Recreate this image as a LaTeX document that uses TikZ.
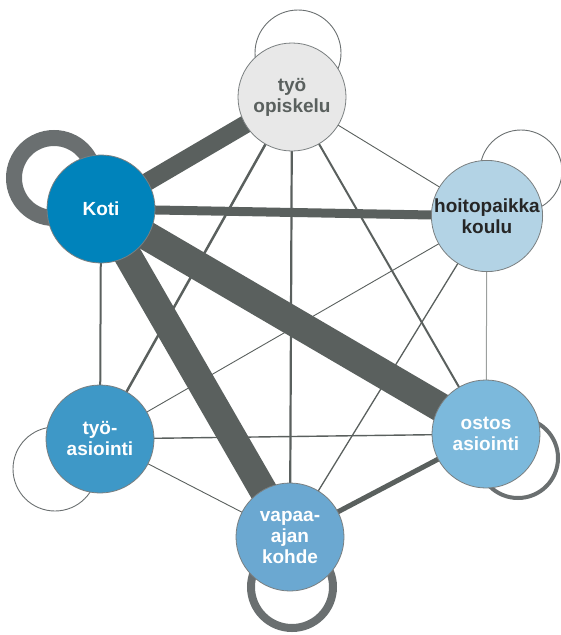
\documentclass[tikz,border=0pt]{standalone}
\usepackage{fontspec}
\setmainfont{Liberation Sans}
\usetikzlibrary{backgrounds}

\definecolor{edgegray}{HTML}{5A605E}
\definecolor{ringgray}{HTML}{6A6F70}
\definecolor{nodeline}{HTML}{7A7F80}
\definecolor{kotiblue}{HTML}{0083BB}
\definecolor{opiskgray}{HTML}{E8E8E8}
\definecolor{hoitoblue}{HTML}{B3D3E5}
\definecolor{asioblue}{HTML}{3E98C7}
\definecolor{ostosblue}{HTML}{7CB9DC}
\definecolor{vapaablue}{HTML}{6BA8D1}

\tikzset{
  place/.style={circle, draw=nodeline, line width=0.8pt,
                minimum size=108pt, inner sep=0pt, align=center,
                font=\fontsize{19}{21}\selectfont\bfseries, text=white},
  link/.style={draw=edgegray, line width=#1},
  link/.default=1pt,
  ring/.style={draw=ringgray, line width=#1},
  ring/.default=0.9pt
}

\begin{document}
\begin{tikzpicture}[x=1pt, y=-1pt]
  \useasboundingbox (0,0) rectangle (561,635);

% places
\node[place, fill=opiskgray, text=edgegray] (opisk) at (292,97)  {työ\\opiskelu};
\node[place, fill=kotiblue]                 (koti)  at (101,209) {Koti};
\node[place, fill=hoitoblue, text=black!85] (hoito) at (487,216) {hoitopaikka\\koulu};
\node[place, fill=asioblue]                 (asio)  at (100,439) {työ-\\asiointi};
\node[place, fill=ostosblue]                (ostos) at (486,434) {ostos\\asiointi};
\node[place, fill=vapaablue]                (vapaa) at (290,537) {vapaa-\\ajan\\kohde};

\begin{scope}[on background layer]
% self loops
\draw[ring]       ([shift={(6,-44)}]opisk.center)  circle (43);
\draw[ring=16pt]  ([shift={(-47,-31)}]koti.center) circle (40);
\draw[ring]       ([shift={(34,-45)}]hoito.center) circle (41);
\draw[ring]       ([shift={(-45,30)}]asio.center)  circle (42);
\draw[ring=4pt]   ([shift={(32,24)}]ostos.center)  circle (40);
\draw[ring=8pt]   ([shift={(2,50)}]vapaa.center)   circle (41);

% edges from koti
\draw[link=18pt]  (koti.center) -- (opisk.center);
\draw[link=9pt]   (koti.center) -- (hoito.center);
\draw[link=29pt]  (koti.center) -- (ostos.center);
\draw[link=28pt]  (koti.center) -- (vapaa.center);
\draw[link=2pt]   (koti.center) -- (asio.center);

% edges from opisk
\draw[link=0.9pt] (opisk.center) -- (hoito.center);
\draw[link=2.5pt] (opisk.center) -- (asio.center);
\draw[link=2.2pt] (opisk.center) -- (vapaa.center);
\draw[link=2pt]   (opisk.center) -- (ostos.center);

% edges from hoito
\draw[link=0.9pt] (hoito.center) -- (asio.center);
\draw[link=1.3pt] (hoito.center) -- (vapaa.center);
\draw[link=1pt, draw=edgegray!60] (hoito.center) -- (ostos.center);

% the rest
\draw[link=1.4pt] (asio.center) -- (ostos.center);
\draw[link=0.9pt] (asio.center) -- (vapaa.center);
\draw[link=5pt]   (ostos.center) -- (vapaa.center);
\end{scope}

\end{tikzpicture}
\end{document}
